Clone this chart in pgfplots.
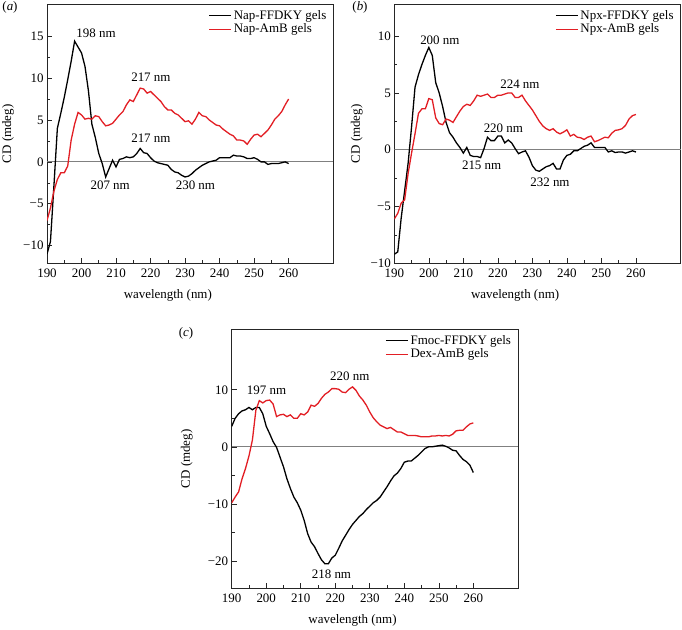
\documentclass[border=0pt]{standalone}
\usepackage{pgfplots}
\pgfplotsset{compat=1.18}
\usepackage{pgfplotstable}
\usepackage{fontspec}
\setmainfont{Liberation Serif}
\definecolor{cdred}{RGB}{226,30,36}
\newcommand{\fs}{\fontsize{13}{15}\selectfont}

% (a) Nap-FFDKY / Nap-AmB
\pgfplotstableread{
wl pep gel
190 -11.0 -7.0
191 -9.5 -5.5
192 -2.9 -3.5
193 4.0 -2.1
194 5.8 -1.3
195 7.7 -1.3
196 9.8 -0.5
197 12.0 2.6
198 14.4 4.5
199 13.7 5.9
200 13.0 5.6
201 11.4 5.1
202 8.5 5.2
203 4.5 5.1
204 2.9 5.5
205 1.0 5.4
206 -0.2 4.8
207 -1.8 4.3
208 -0.8 4.4
209 0.2 4.6
210 -0.6 5.1
211 0.3 5.6
212 0.4 6.0
213 0.6 6.8
214 0.5 7.4
215 0.6 7.2
216 1.0 8.0
217 1.6 8.8
218 1.1 8.7
219 1.0 8.2
220 0.5 8.4
221 0.1 8.0
222 -0.1 7.6
223 -0.2 7.2
224 -0.3 6.6
225 -0.4 6.2
226 -0.9 6.2
227 -1.2 5.8
228 -1.3 5.6
229 -1.6 5.2
230 -1.8 4.8
231 -1.7 4.9
232 -1.4 4.5
233 -1.0 5.1
234 -0.7 5.9
235 -0.4 5.5
236 -0.2 5.4
237 0.0 5.0
238 0.1 4.7
239 0.2 4.4
240 0.5 4.3
241 0.5 3.9
242 0.5 3.6
243 0.5 3.3
244 0.8 3.1
245 0.7 2.6
246 0.7 2.6
247 0.6 2.5
248 0.4 2.1
249 0.4 2.7
250 0.5 3.2
251 0.3 3.3
252 0.0 3.0
253 0.0 3.4
254 -0.3 3.8
255 -0.2 4.4
256 -0.2 5.1
257 -0.2 5.5
258 -0.1 6.0
259 0.0 6.8
260 -0.2 7.5
}\tblA

% (b) Npx-FFDKY / Npx-AmB
\pgfplotstableread{
wl pep gel
190 -9.2 -6.1
191 -9.0 -5.6
192 -6.0 -4.7
193 -3.6 -4.4
194 -1.2 -2.1
195 2.0 -0.3
196 5.5 1.4
197 6.6 3.2
198 7.5 3.6
199 8.3 3.6
200 9.0 4.5
201 8.3 4.4
202 5.9 2.8
203 5.0 2.3
204 3.8 2.2
205 2.4 2.7
206 1.5 2.6
207 1.1 2.4
208 0.6 2.9
209 0.2 3.4
210 -0.3 3.8
211 0.2 4.0
212 -0.5 3.9
213 -0.6 4.3
214 -0.6 4.8
215 -0.7 4.7
216 0.1 4.8
217 1.1 4.9
218 0.8 4.6
219 0.8 4.6
220 1.2 4.8
221 1.2 4.8
222 0.6 4.9
223 0.85 5.0
224 0.6 5.0
225 0.1 4.6
226 -0.35 4.6
227 -0.2 4.8
228 -0.1 4.3
229 -0.65 3.9
230 -1.4 3.5
231 -1.8 3.0
232 -1.9 2.5
233 -1.7 2.1
234 -1.5 1.85
235 -1.4 1.7
236 -1.2 1.85
237 -1.7 1.55
238 -1.7 1.4
239 -0.9 1.55
240 -0.5 1.75
241 -0.4 1.2
242 -0.1 1.35
243 -0.1 1.1
244 0.1 1.05
245 0.3 0.9
246 0.4 1.1
247 0.6 1.2
248 0.2 0.7
249 0.2 0.8
250 0.2 0.95
251 0.2 1.1
252 -0.2 1.05
253 -0.1 1.45
254 -0.25 1.7
255 -0.2 1.75
256 -0.2 1.85
257 -0.3 2.15
258 -0.2 2.7
259 -0.1 3.0
260 -0.2 3.1
}\tblB

% (c) Fmoc-FFDKY / Dex-AmB
\pgfplotstableread{
wl pep gel
190 3.6 -9.8
191 5.0 -8.8
192 5.8 -7.9
193 6.3 -5.6
194 6.5 -3.8
195 6.9 -1.6
196 6.5 1.2
197 6.9 6.4
198 6.9 8.1
199 5.8 7.7
200 3.6 8.1
201 2.3 8.2
202 0.9 7.5
203 -0.1 5.3
204 -1.8 5.6
205 -3.5 5.7
206 -5.6 5.3
207 -7.3 5.6
208 -8.8 5.0
209 -9.8 5.0
210 -11.1 5.8
211 -12.9 5.6
212 -15.2 6.1
213 -16.7 7.3
214 -17.5 7.1
215 -18.7 7.6
216 -19.8 8.5
217 -20.5 9.2
218 -20.5 9.6
219 -19.5 10.2
220 -19.0 10.2
221 -17.8 10.1
222 -16.5 9.6
223 -15.5 9.5
224 -14.5 10.1
225 -13.6 10.5
226 -12.9 9.9
227 -12.2 8.9
228 -11.7 8.2
229 -11.0 7.3
230 -10.4 6.1
231 -9.8 5.1
232 -9.4 4.4
233 -8.8 3.8
234 -7.9 3.5
235 -7.0 3.2
236 -6.0 3.4
237 -5.1 3.0
238 -4.6 2.6
239 -3.8 2.6
240 -2.7 2.3
241 -2.5 2.0
242 -2.5 2.0
243 -2.0 2.0
244 -1.5 1.9
245 -0.9 1.75
246 -0.3 1.75
247 0.0 1.75
248 0.0 1.9
249 0.1 1.9
250 0.2 2.0
251 0.3 1.9
252 0.1 2.0
253 -0.2 1.9
254 -0.6 2.2
255 -0.7 2.8
256 -1.5 2.9
257 -2.2 2.9
258 -2.6 3.5
259 -3.2 4.0
260 -4.5 4.2
}\tblC

\pgfplotsset{
  cdpanel/.style={
    scale only axis, width=286.5bp, height=259bp,
    xmin=190, xmax=273,
    xtick={190,200,...,260},
    xticklabels={190,200,210,220,230,240,250,260},
    minor x tick num=1, minor y tick num=1,
    tick align=inside, tick pos=left,
    major tick length=5bp, minor tick length=3bp,
    axis line style={line width=0.7bp, black!85},
    every tick/.style={line width=0.6bp, black!85},
    font=\fs,
    every tick label/.append style={font=\fs},
    every axis label/.append style={font=\fs},
    xticklabel style={yshift=-2bp},
    xlabel={wavelength (nm)},
    xlabel style={at={(axis description cs:0.4217,-0.124)}, anchor=center},
    ylabel={CD (mdeg)},
    legend cell align=left,
    legend style={draw=none, fill=none, at={(1,1)}, anchor=north east,
      xshift=-5bp, yshift=-4bp, inner sep=0pt, row sep=-1bp, font=\fs},
    legend image code/.code={\draw[##1] (0bp,0bp) -- (22bp,0bp);},
  },
  pep/.style={black, line width=1.3bp},
  gel/.style={cdred, line width=1.3bp},
  zero/.style={gray, line width=0.8bp, forget plot},
}

\begin{document}
\begin{tikzpicture}
\path[use as bounding box] (0,0) rectangle (682bp,-630bp);

% (a)
\begin{axis}[cdpanel, at={(47bp,-263.3bp)}, anchor=south west,
  ymin=-12.1, ymax=18.8,
  ytick={-10,-5,0,5,10,15}, yticklabels={−10,−5,0,5,10,15},
  ylabel style={at={(axis description cs:-0.136,0.5)}, anchor=center}]
\addplot[zero] coordinates {(190,0) (273,0)};
\addplot[pep] table[x=wl, y=pep] {\tblA};
\addplot[gel] table[x=wl, y=gel] {\tblA};
\legend{Nap-FFDKY gels, Nap-AmB gels}
\node[font=\fs] at (axis cs:204.2,15.3) {198 nm};
\node[font=\fs] at (axis cs:220.1,10.1) {217 nm};
\node[font=\fs] at (axis cs:220.1,2.86) {217 nm};
\node[font=\fs] at (axis cs:208.3,-2.77) {207 nm};
\node[font=\fs] at (axis cs:233,-2.77) {230 nm};
\end{axis}

% (b)
\begin{axis}[cdpanel, at={(394.3bp,-263.3bp)}, anchor=south west,
  ymin=-10, ymax=12.8,
  ytick={-10,-5,0,5,10}, yticklabels={−10,−5,0,5,10},
  ylabel style={at={(axis description cs:-0.131,0.5)}, anchor=center}]
\addplot[zero] coordinates {(190,0) (273,0)};
\addplot[pep] table[x=wl, y=pep] {\tblB};
\addplot[gel] table[x=wl, y=gel] {\tblB};
\legend{Npx-FFDKY gels, Npx-AmB gels}
\node[font=\fs] at (axis cs:203.2,9.6) {200 nm};
\node[font=\fs] at (axis cs:226.4,5.8) {224 nm};
\node[font=\fs] at (axis cs:221.6,1.9) {220 nm};
\node[font=\fs] at (axis cs:215.3,-1.4) {215 nm};
\node[font=\fs] at (axis cs:235.1,-2.85) {232 nm};
\end{axis}

% (c)
\begin{axis}[cdpanel, at={(231.7bp,-588.3bp)}, anchor=south west,
  ymin=-24.8, ymax=20.6,
  ytick={-20,-10,0,10}, yticklabels={−20,−10,0,10},
  ylabel style={at={(axis description cs:-0.157,0.5)}, anchor=center}]
\addplot[zero] coordinates {(190,0) (273,0)};
\addplot[pep] table[x=wl, y=pep] {\tblC};
\addplot[gel] table[x=wl, y=gel] {\tblC};
\legend{Fmoc-FFDKY gels, Dex-AmB gels}
\node[font=\fs] at (axis cs:200.1,9.9) {197 nm};
\node[font=\fs] at (axis cs:224.2,12.4) {220 nm};
\node[font=\fs] at (axis cs:218.9,-22.3) {218 nm};
\end{axis}

\node[font=\fs] at (10bp,-7.5bp) {(\textit{a})};
\node[font=\fs] at (360bp,-7bp) {(\textit{b})};
\node[font=\fs] at (186bp,-333bp) {(\textit{c})};
\end{tikzpicture}
\end{document}
